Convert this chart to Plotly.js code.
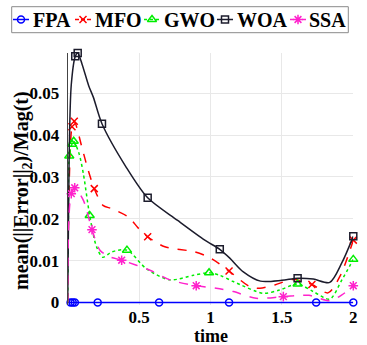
<!DOCTYPE html>
<html>
<head>
<meta charset="utf-8">
<script src="https://cdn.plot.ly/plotly-3.0.1.min.js"></script>
<style>html,body{margin:0;padding:0;background:#fff;}#chart{width:367px;height:345px;}</style>
</head>
<body>
<div id="chart"></div>
<script>
// ---------------- data ----------------
const seriesNames = ['FPA', 'MFO', 'GWO', 'WOA', 'SSA'];

const fpaTime = [0, 0.02, 0.035, 0.05, 0.21, 0.64, 1.13, 1.74, 2.0];
const fpaValue = [0, 0, 0, 0, 0, 0, 0, 0, 0];
const fpaMarkerIdx = [1, 2, 3, 4, 5, 6, 7, 8];

const mfoTime = [0, 0.01, 0.03, 0.046, 0.1, 0.14, 0.186, 0.247, 0.31, 0.426, 0.496, 0.56, 0.68, 0.89, 1.006, 1.13, 1.275, 1.346, 1.45, 1.58, 1.71, 1.823, 1.91, 2.0];
const mfoValue = [0, 0.028, 0.042, 0.0433, 0.037, 0.032, 0.0272, 0.0232, 0.0224, 0.0204, 0.0177, 0.0157, 0.0133, 0.0121, 0.0105, 0.0075, 0.0038, 0.0034, 0.0042, 0.0055, 0.0043, 0.0023, 0.0065, 0.0149];
const mfoMarkerIdx = [2, 3, 6, 11, 15, 20, 23];

const gwoTime = [0, 0.005, 0.011, 0.03, 0.042, 0.08, 0.11, 0.154, 0.2, 0.245, 0.31, 0.415, 0.55, 0.715, 0.88, 0.99, 1.065, 1.16, 1.37, 1.485, 1.61, 1.72, 1.835, 1.92, 2.0];
const gwoValue = [0, 0.02, 0.035, 0.0378, 0.0385, 0.0355, 0.0307, 0.0208, 0.0135, 0.0108, 0.0121, 0.0125, 0.0081, 0.0054, 0.0065, 0.0071, 0.0065, 0.005, 0.0022, 0.003, 0.0044, 0.0026, 0.0008, 0.0054, 0.0103];
const gwoMarkerIdx = [2, 3, 4, 7, 11, 15, 20, 24];

const woaTime = [0, 0.01, 0.025, 0.053, 0.07, 0.1, 0.147, 0.18, 0.24, 0.41, 0.56, 0.77, 0.96, 1.065, 1.135, 1.23, 1.35, 1.5, 1.61, 1.72, 1.835, 1.92, 2.0];
const woaValue = [0, 0.035, 0.052, 0.0588, 0.0596, 0.057, 0.0518, 0.049, 0.0427, 0.0323, 0.025, 0.0196, 0.0149, 0.0127, 0.0106, 0.0073, 0.0051, 0.0053, 0.0058, 0.0056, 0.0048, 0.0095, 0.0158];
const woaMarkerIdx = [3, 4, 8, 10, 13, 18, 22];

const ssaTime = [0, 0.008, 0.025, 0.049, 0.11, 0.17, 0.226, 0.296, 0.378, 0.576, 0.715, 0.9, 1.04, 1.16, 1.32, 1.51, 1.69, 1.835, 1.92, 2.0];
const ssaValue = [0, 0.02, 0.026, 0.0274, 0.0244, 0.0174, 0.0125, 0.0109, 0.0101, 0.0077, 0.0054, 0.004, 0.0034, 0.0026, 0.001, 0.0014, 0.0017, 0.0004, 0.0018, 0.004];
const ssaMarkerIdx = [2, 3, 5, 8, 11, 15, 19];

const xTickVals = [0.5, 1, 1.5, 2];
const xTickText = ['0.5', '1', '1.5', '2'];
const yTickVals = [0, 0.01, 0.02, 0.03, 0.04, 0.05];
const yTickText = ['0', '0.01', '0.02', '0.03', '0.04', '0.05'];
const xTitle = 'time';
const yTitle = 'mean(||Error||<sub>2</sub>)/Mag(t)';

// ---------------- styles ----------------
const FONT = 'Liberation Serif';
const styles = {
  FPA: {color: '#0000ff', dash: 'solid', symbol: 'circle-open', size: 7},
  MFO: {color: '#ff0000', dash: 'dash', symbol: 'x-thin-open', size: 7},
  GWO: {color: '#00ee00', dash: 'dot', symbol: 'triangle-up-open', size: 8},
  WOA: {color: '#1c1c2c', dash: 'solid', symbol: 'square-open', size: 7},
  SSA: {color: '#ff22cc', dash: 'dash', symbol: 'asterisk-open', size: 8}
};
const series = {
  FPA: {t: fpaTime, v: fpaValue, m: fpaMarkerIdx},
  MFO: {t: mfoTime, v: mfoValue, m: mfoMarkerIdx},
  GWO: {t: gwoTime, v: gwoValue, m: gwoMarkerIdx},
  WOA: {t: woaTime, v: woaValue, m: woaMarkerIdx},
  SSA: {t: ssaTime, v: ssaValue, m: ssaMarkerIdx}
};

// figure pixel geometry (margins 0 -> paper = full figure)
const W = 367, H = 345;
const plotLeft = 67.7, plotRight = 353.3, plotTop = 53, plotBottom = 305;

const traces = [];
seriesNames.forEach(name => {
  const s = series[name], st = styles[name];
  traces.push({
    type: 'scatter', mode: 'lines', x: s.t, y: s.v, name: name,
    line: {color: st.color, width: 1.5, dash: st.dash, shape: 'spline', smoothing: 0.8},
    showlegend: false, hoverinfo: 'skip', cliponaxis: false
  });
  traces.push({
    type: 'scatter', mode: 'markers',
    x: s.m.map(i => s.t[i]), y: s.m.map(i => s.v[i]), name: name,
    marker: {symbol: st.symbol, size: st.size, color: st.color, line: {color: st.color, width: 1.5}},
    showlegend: false, cliponaxis: false
  });
});

// custom legend drawn on a pixel-coordinate overlay axis pair (x2/y2)
const legendBox = {x0: 11.7, x1: 348.3, y0: 6.7, y1: 32.7, yc: 19.5};
const legendEntries = [
  {sym0: 13, sym1: 29, text: 31.5},
  {sym0: 75, sym1: 91, text: 93.5},
  {sym0: 144, sym1: 160, text: 162.5},
  {sym0: 217, sym1: 233, text: 235.5},
  {sym0: 290, sym1: 306, text: 307.5}
];
const annotations = [];
seriesNames.forEach((name, k) => {
  const st = styles[name], e = legendEntries[k];
  traces.push({
    type: 'scatter', mode: 'lines', xaxis: 'x2', yaxis: 'y2',
    x: [e.sym0, e.sym1], y: [legendBox.yc, legendBox.yc],
    line: {color: st.color, width: 1.5, dash: st.dash === 'solid' ? 'solid' : (st.dash === 'dot' ? 'dot' : '4px,2px')},
    showlegend: false, hoverinfo: 'skip', cliponaxis: false
  });
  traces.push({
    type: 'scatter', mode: 'markers', xaxis: 'x2', yaxis: 'y2',
    x: [(e.sym0 + e.sym1) / 2], y: [legendBox.yc],
    marker: {symbol: st.symbol, size: st.size, color: st.color, line: {color: st.color, width: 1.5}},
    showlegend: false, hoverinfo: 'skip', cliponaxis: false
  });
  annotations.push({
    xref: 'x2', yref: 'y2', x: e.text, y: legendBox.yc + 0.5, xanchor: 'left', yanchor: 'middle',
    text: name, showarrow: false, borderpad: 0,
    font: {family: FONT, size: 20, color: '#000', weight: 'bold'}
  });
});

// axis titles placed as annotations (pixel coordinates on the overlay axes)
annotations.push({
  xref: 'x2', yref: 'y2', x: (plotLeft + plotRight) / 2, y: 335.5, xanchor: 'center', yanchor: 'middle',
  text: xTitle, showarrow: false, borderpad: 0,
  font: {family: FONT, size: 18, color: '#000', weight: 'bold'}
});
annotations.push({
  xref: 'x2', yref: 'y2', x: 22, y: 191, xanchor: 'center', yanchor: 'middle', textangle: -90,
  text: yTitle, showarrow: false, borderpad: 0,
  font: {family: FONT, size: 20, color: '#000', weight: 'bold'}
});

const layout = {
  width: W, height: H,
  margin: {l: 0, r: 0, t: 0, b: 0, pad: 0},
  paper_bgcolor: '#ffffff', plot_bgcolor: 'rgba(0,0,0,0)',
  showlegend: false,
  font: {family: FONT, size: 17, color: '#000'},
  xaxis: {
    domain: [plotLeft / W, plotRight / W], range: [0, 2],
    tickvals: xTickVals, ticktext: xTickText,
    showgrid: true, gridcolor: '#e8e8e8', gridwidth: 1,
    zeroline: false, showline: false, ticks: '',
    tickfont: {family: FONT, size: 17, color: '#000', weight: 'bold'},
    automargin: false, fixedrange: true
  },
  yaxis: {
    domain: [1 - plotBottom / H, 1 - plotTop / H], range: [-0.0006, 0.0596],
    tickvals: yTickVals, ticktext: yTickText,
    showgrid: true, gridcolor: '#e8e8e8', gridwidth: 1,
    zeroline: false, showline: true, linecolor: '#444', linewidth: 1, ticks: '',
    ticklabelstandoff: 4,
    tickfont: {family: FONT, size: 17, color: '#000', weight: 'bold'},
    automargin: false, fixedrange: true
  },
  xaxis2: {domain: [0, 1], range: [0, W], visible: false, anchor: 'y2', fixedrange: true},
  yaxis2: {domain: [0, 1], range: [H, 0], visible: false, anchor: 'x2', fixedrange: true},
  shapes: [{
    type: 'rect', xref: 'x2', yref: 'y2',
    x0: legendBox.x0, x1: legendBox.x1, y0: legendBox.y0, y1: legendBox.y1,
    line: {color: '#8a8a8a', width: 1}, fillcolor: '#ffffff', layer: 'below'
  }],
  annotations: annotations
};

Plotly.newPlot('chart', traces, layout, {staticPlot: true, displayModeBar: false});
</script>
</body>
</html>
